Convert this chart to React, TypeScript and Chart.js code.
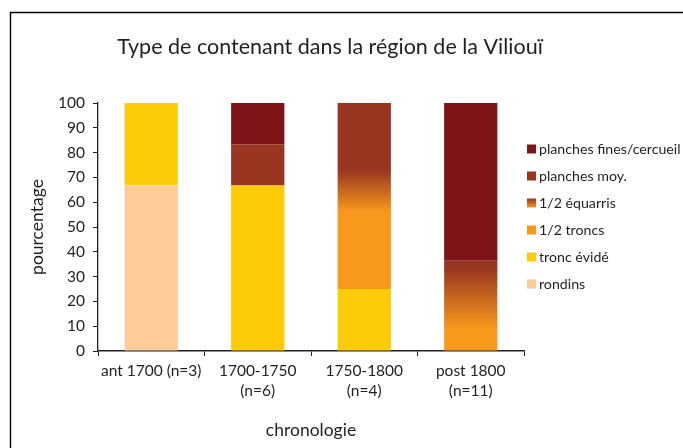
import React, { useEffect, useRef } from "react";
import { Chart, registerables } from "chart.js";

Chart.register(...registerables);

const TITLE = "Type de contenant dans la région de la Viliouï";
const CATEGORIES: (string | string[])[] = [
  "ant 1700 (n=3)",
  ["1700-1750", "(n=6)"],
  ["1750-1800", "(n=4)"],
  ["post 1800", "(n=11)"],
];
// stacked bottom → top
const RONDINS = [66.7, 0, 0, 0];
const TRONC_EVIDE = [33.3, 66.7, 25, 0];
const DEMI_TRONCS = [0, 0, 25, 0];
const DEMI_EQUARRIS = [0, 0, 25, 36.4];
const PLANCHES_MOY = [0, 16.7, 25, 0];
const PLANCHES_FINES = [0, 16.6, 0, 63.6];
const Y_TICKS = [0, 10, 20, 30, 40, 50, 60, 70, 80, 90, 100];

const C_RONDINS = "#FFCC99";
const C_TRONC = "#FECC06";
const C_ORANGE = "#F8981D";
const C_BROWN = "#993521";
const C_DARK = "#7E1418";
const TXT = "#231f20";
const FONT = "Lato, 'Open Sans', sans-serif";

function equarrisFill(ctx: any) {
  const chart = ctx.chart;
  if (!chart.chartArea || ctx.type !== "data" || !chart.scales.y) return C_ORANGE;
  const i = ctx.dataIndex;
  const di = ctx.datasetIndex;
  let base = 0;
  for (let d = 0; d < di; d++) base += Number(chart.data.datasets[d].data[i]) || 0;
  const top = base + (Number(chart.data.datasets[di].data[i]) || 0);
  const y0 = chart.scales.y.getPixelForValue(top);
  const y1 = chart.scales.y.getPixelForValue(base);
  if (y1 - y0 < 1) return C_ORANGE;
  const g = chart.ctx.createLinearGradient(0, y0, 0, y1);
  g.addColorStop(0, C_BROWN);
  g.addColorStop(0.08, C_BROWN);
  g.addColorStop(0.75, C_ORANGE);
  g.addColorStop(1, C_ORANGE);
  return g;
}

const decorPlugin = {
  id: "decor",
  afterDraw(chart: any) {
    const c = chart.ctx;
    c.save();
    // frame (top + left)
    c.strokeStyle = "#000";
    c.lineWidth = 1.4;
    c.beginPath();
    c.moveTo(10.5, 448);
    c.lineTo(10.5, 12.5);
    c.lineTo(683, 12.5);
    c.stroke();
    // title
    c.fillStyle = TXT;
    c.font = `21.5px ${FONT}`;
    c.textAlign = "center";
    c.textBaseline = "middle";
    c.fillText(TITLE, 330, 47);
    // legend (reverse order)
    const ds = chart.data.datasets;
    c.font = `14.2px ${FONT}`;
    c.textAlign = "left";
    let y = 149;
    for (let k = ds.length - 1; k >= 0; k--) {
      const d = ds[k];
      const bx = 527, by = y - 4.5, s = 9;
      if (d.label === "1/2 équarris") {
        const g = c.createLinearGradient(0, by, 0, by + s);
        g.addColorStop(0, C_BROWN);
        g.addColorStop(1, C_ORANGE);
        c.fillStyle = g;
      } else {
        c.fillStyle = d.legendColor;
      }
      c.fillRect(bx, by, s, s);
      c.fillStyle = TXT;
      c.fillText(d.label, 539, y);
      y += 27;
    }
    c.restore();
  },
};

export default function App() {
  const ref = useRef<HTMLCanvasElement>(null);
  useEffect(() => {
    document.body.style.margin = "0";
    Chart.defaults.font.family = FONT;
    Chart.defaults.color = TXT;
    const mk = (label: string, data: number[], color: any, legendColor: string) => ({
      label,
      data,
      backgroundColor: color,
      legendColor,
      borderWidth: 0,
      categoryPercentage: 0.5,
      barPercentage: 1,
    });
    const chart = new Chart(ref.current!, {
      type: "bar",
      data: {
        labels: CATEGORIES as any,
        datasets: [
          mk("rondins", RONDINS, C_RONDINS, C_RONDINS),
          mk("tronc évidé", TRONC_EVIDE, C_TRONC, C_TRONC),
          mk("1/2 troncs", DEMI_TRONCS, C_ORANGE, C_ORANGE),
          mk("1/2 équarris", DEMI_EQUARRIS, equarrisFill, C_ORANGE),
          mk("planches moy.", PLANCHES_MOY, C_BROWN, C_BROWN),
          mk("planches fines/cercueil", PLANCHES_FINES, C_DARK, C_DARK),
        ] as any,
      },
      options: {
        animation: false,
        responsive: false,
        devicePixelRatio: 1,
        layout: { padding: { left: 10, right: 159, top: 103, bottom: 0 } },
        plugins: {
          legend: { display: false },
          title: { display: false },
          tooltip: { enabled: false },
        },
        scales: {
          x: {
            stacked: true,
            afterFit: (s: any) => {
              s.height = 97;
            },
            grid: {
              display: true,
              drawOnChartArea: false,
              drawTicks: true,
              tickLength: 5,
              color: TXT,
              lineWidth: 1,
              offset: true,
            },
            border: { display: true, color: TXT, width: 1.5 },
            ticks: {
              color: TXT,
              font: { size: 15.5, lineHeight: 1.3 },
              padding: 5,
              maxRotation: 0,
              autoSkip: false,
            },
            title: {
              display: true,
              text: "chronologie",
              color: TXT,
              font: { size: 17.5 },
              padding: { top: 0, bottom: 7 },
            },
          },
          y: {
            stacked: true,
            min: 0,
            max: 100,
            afterFit: (s: any) => {
              s.width = 88;
            },
            afterBuildTicks: (s: any) => {
              s.ticks = Y_TICKS.map((v) => ({ value: v }));
            },
            grid: {
              display: true,
              drawOnChartArea: false,
              drawTicks: true,
              tickLength: 5,
              color: TXT,
              lineWidth: 1,
            },
            border: { display: true, color: TXT, width: 1.3 },
            ticks: {
              color: TXT,
              font: { size: 15.5 },
              padding: 8,
              stepSize: 10,
            },
            title: {
              display: true,
              text: "pourcentage",
              color: TXT,
              font: { size: 17.5 },
              padding: { top: 17, bottom: 0 },
            },
          },
        },
      },
      plugins: [decorPlugin],
    } as any);
    return () => chart.destroy();
  }, []);
  return <canvas ref={ref} width={683} height={448} style={{ display: "block" }} />;
}
